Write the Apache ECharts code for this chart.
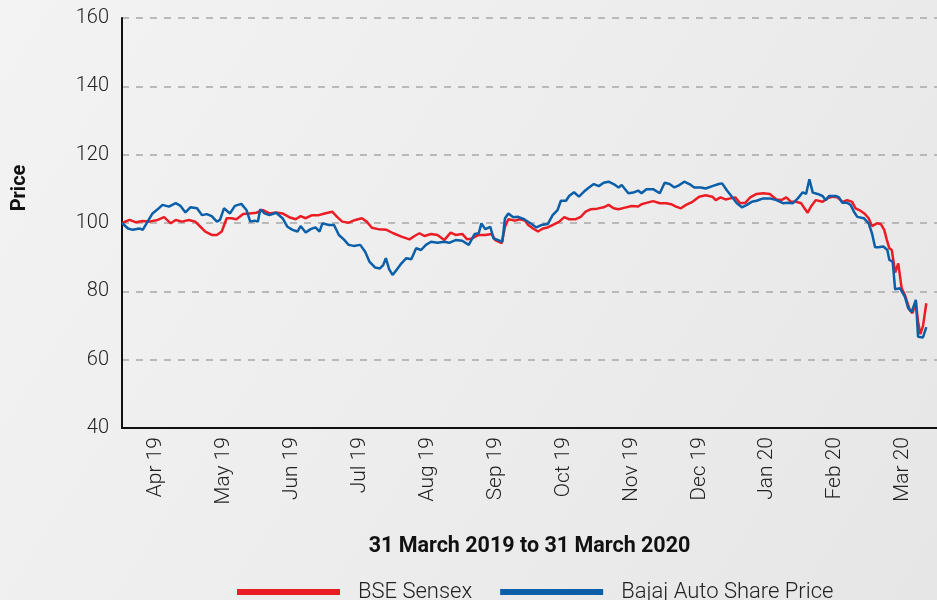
<!DOCTYPE html>
<html>
<head>
<meta charset="utf-8">
<title>BSE Sensex vs Bajaj Auto</title>
<script src="https://cdn.jsdelivr.net/npm/echarts@6/dist/echarts.min.js"></script>
<style>
  html, body { margin: 0; padding: 0; }
  #chart { width: 937px; height: 600px; }
</style>
</head>
<body>
<div id="chart"></div>
<script>
// month labels on the x axis
const months = ['Apr 19', 'May 19', 'Jun 19', 'Jul 19', 'Aug 19', 'Sep 19',
    'Oct 19', 'Nov 19', 'Dec 19', 'Jan 20', 'Feb 20', 'Mar 20'];
const yTicks = [40, 60, 80, 100, 120, 140, 160];

// days since 31 Mar 2019, indexed price (31 Mar 2019 = 100)
const sensexDays = [0, 3.4, 6.3, 9.3, 12.3, 16, 18.9, 21.9, 24.1, 27, 30, 32.9, 35.2, 37.4, 40.3, 42.6, 44.8, 47,
    49.2, 51.4, 54.4, 57.3, 60.3, 63.3, 66.2, 69.2, 72.1, 75.1, 78, 80.2, 82.5, 85.4, 88.4, 91, 94.4, 96.6,
    98.9, 101.8, 104.8, 107.7, 109.9, 112.2, 115.1, 118.8, 121.8, 125.5, 129.1, 131.4, 133.6, 135.8, 138.8,
    141.7, 144.7, 147.6, 149.8, 152.8, 155, 157.2, 160.2, 163.1, 166.1, 167.6, 170.5, 172, 173.5, 176.4,
    178.7, 180.9, 182.4, 184.6, 186.8, 189, 191.2, 194.2, 196.4, 198.6, 200.8, 203.8, 206, 208.2, 210.4,
    213.4, 216.3, 218.5, 220.8, 223, 225.9, 228.9, 231.8, 233.3, 235.5, 238.5, 241.5, 244.4, 246.6, 248.8,
    251, 253.3, 256.2, 259.2, 262.1, 265.1, 266.6, 268.8, 271, 273.2, 275.4, 277.6, 279.9, 282.1, 285, 288,
    290.9, 293.9, 296.1, 298.3, 300.5, 302.7, 305, 306.5, 307.9, 309.4, 311.6, 314.6, 316.8, 319, 321.3,
    323.5, 325.7, 327.9, 329.4, 331.6, 333.4, 335.3, 336.8, 339, 340.8, 342.3, 343.5, 344.6, 345.7, 347.2,
    348.6, 350.1, 351.6, 353.8, 355, 356.5, 357.5, 358.5, 359.7, 361.2];
const sensexVals = [100, 100.9, 100.2, 100.6, 100.4, 100.9, 101.7, 99.9, 100.9, 100.4, 100.9, 100.4, 98.9, 97.5,
    96.5, 96.5, 97.5, 101.4, 101.4, 101.1, 102.6, 102.8, 103, 103.8, 102.8, 103.1, 102.8, 101.7, 101.1, 102,
    101.4, 102.3, 102.3, 102.8, 103.3, 101.8, 100.4, 100.1, 100.9, 101.4, 100.4, 98.6, 98.2, 98, 97, 96,
    95.2, 96.2, 97, 96.2, 96.8, 96.5, 95, 97.2, 96.5, 96.8, 95.2, 95.5, 96.5, 96.5, 96.8, 95, 94.1, 98.9,
    101.1, 100.7, 101.1, 100.7, 99.4, 98.4, 97.5, 98.4, 98.7, 99.7, 100.4, 101.7, 101.1, 101.1, 101.8,
    103.3, 104, 104.2, 104.6, 105.3, 104.3, 104, 104.5, 105, 104.8, 105.5, 105.9, 106.4, 105.8, 105.8,
    105.5, 104.8, 104.3, 105.3, 106.2, 107.7, 108.1, 107.7, 106.7, 107.5, 106.9, 107.2, 107.5, 105.8,
    105.9, 107.5, 108.5, 108.7, 108.5, 106.9, 106.7, 107.5, 106.2, 106.2, 105.8, 104.3, 103, 104.8, 106.7,
    106.2, 107.2, 107.7, 107.5, 106.2, 106.7, 106.2, 104.3, 103.6, 102.8, 101.4, 99.1, 99.9, 99.7, 98, 95,
    92.6, 92.1, 85.5, 88.2, 81, 78.9, 74.5, 73.6, 76.8, 71.1, 67.5, 69.8, 76.5];

const bajajDays = [0, 2.7, 4.9, 7.8, 9.3, 11.5, 13.7, 16, 18.2, 21.1, 24.1, 26.3, 28.5, 30.7, 33.7, 35.9, 38.1,
    40.3, 42.6, 44, 45.8, 48.5, 50.7, 53.6, 55.9, 57.6, 59.5, 61, 62.1, 64, 66.2, 69.2, 72.1, 74.3, 76.6,
    78.8, 80.2, 82.5, 84.7, 86.9, 88.7, 90, 93, 95.2, 97.4, 99.6, 101.8, 104, 107, 109.2, 111.1, 113.6,
    115.8, 117.3, 118.5, 120, 121.5, 123.2, 125.5, 127.7, 129.9, 132.1, 134.3, 136.5, 138.8, 141.7, 144.7,
    146.9, 149.8, 152.8, 155.7, 158.4, 160.2, 161.4, 163.1, 165.4, 166.8, 169, 170.8, 172, 173.5, 175.7,
    177.9, 180.6, 183.9, 186.1, 188.3, 191.2, 193.4, 195.6, 197.1, 199.4, 200.8, 203, 205.2, 207.5, 209.7,
    211.9, 214.1, 216.3, 218.5, 220.8, 223, 224.4, 227.4, 229.6, 231.8, 233.3, 235.5, 238.5, 241.5, 243.7,
    245.9, 248.1, 250.3, 252.5, 254.8, 257, 259.9, 262.1, 265.1, 268, 269.5, 271.7, 273.9, 276.1, 278.4,
    280.6, 282.8, 285, 288, 290.9, 293.9, 296.8, 299.1, 301.3, 303.5, 305.7, 307.2, 308.7, 310.2, 312.4,
    314.6, 316, 317.5, 320.5, 322, 323.5, 325.7, 327.2, 328.7, 330.2, 333.1, 335.3, 336.8, 338.2, 339.7,
    341.9, 342.7, 343.7, 344.6, 346.1, 347.2, 349.4, 351.6, 353.1, 354.6, 356.5, 357.5, 359.7, 361.2];
const bajajVals = [100, 98.4, 98, 98.4, 98, 100.4, 102.8, 104, 105.3, 104.8, 105.8, 105, 103.1, 104.6, 104.3,
    102.3, 102.6, 102, 100.4, 100.9, 104.3, 102.8, 105, 105.6, 103.8, 100.4, 100.7, 100.4, 104, 102.8,
    102.3, 103, 101.4, 98.9, 98, 97.5, 99.1, 97.2, 98.2, 98.7, 97.5, 99.9, 99.4, 99.4, 96.5, 95.2, 93.6,
    93.3, 93.6, 91.6, 88.7, 87, 86.7, 87.7, 89.7, 86.4, 84.8, 86.2, 88.2, 89.7, 89.4, 92.6, 92.1, 93.6,
    94.5, 94.2, 94.5, 94.2, 95, 94.8, 93.6, 96.8, 97, 99.9, 98.2, 98.9, 95.5, 95, 94.5, 101.4, 102.8, 101.7,
    101.8, 101.1, 99.7, 98.7, 99.4, 99.7, 102.3, 103.8, 106.5, 106.5, 107.9, 109, 107.7, 109.2, 110.4,
    111.4, 110.8, 111.8, 112.1, 111.4, 110.4, 111.1, 108.7, 108.9, 109.5, 108.7, 109.9, 109.9, 108.7,
    111.8, 111.4, 110.4, 111.1, 112.1, 111.4, 110.4, 110.4, 110.1, 110.8, 111.4, 111.6, 109.5, 107.7,
    105.8, 104.6, 105.3, 106.2, 106.5, 107.2, 107.2, 106.7, 105.8, 105.9, 105.8, 107.2, 109, 108.5, 112.8,
    108.9, 108.5, 107.9, 106.7, 107.9, 107.9, 107.5, 105.9, 105.9, 105.3, 103.3, 101.8, 101.4, 99.9, 97,
    92.9, 92.9, 93.1, 93.6, 92.1, 89.2, 88.7, 80.6, 80.9, 78.4, 75, 74, 77.5, 66.7, 66.5, 69.5];

const textFont = 'Roboto';
const toPairs = (days, vals) => days.map((d, i) => [d, vals[i]]);

const chart = echarts.init(document.getElementById('chart'));

chart.setOption({
    backgroundColor: {
        type: 'linear', x: 0, y: 0, x2: 1, y2: 1,
        colorStops: [
            { offset: 0, color: '#f3f3f3' },
            { offset: 0.5, color: '#ededed' },
            { offset: 1, color: '#e6e6e6' }
        ]
    },
    animation: false,
    grid: { left: 122, right: -10, top: 18, bottom: 172 },
    legend: {
        data: ['BSE Sensex', 'Bajaj Auto Share Price'],
        left: 232, top: 576,
        icon: 'rect', itemWidth: 103, itemHeight: 6, itemGap: 28,
        textStyle: { fontFamily: textFont, fontSize: 22, fontWeight: 300, color: '#222', padding: [0, 0, 0, 13] }
    },
    graphic: [{
        type: 'text', x: 20, y: 188, rotation: Math.PI / 2,
        style: {
            text: 'Price', fontFamily: textFont, fontSize: 20, fontWeight: 'bold',
            fill: '#111', textAlign: 'center', textVerticalAlign: 'middle'
        }
    }],
    xAxis: [{
        type: 'category', data: months, boundaryGap: true,
        name: '31 March 2019 to 31 March 2020', nameLocation: 'middle', nameGap: 108,
        nameTextStyle: { fontFamily: textFont, fontSize: 21.5, fontWeight: 'bold', color: '#111' },
        axisLine: { lineStyle: { color: '#111', width: 2 } },
        axisTick: { inside: true, length: 17, lineStyle: { color: '#111', width: 2 } },
        axisLabel: { rotate: 90, margin: 9, fontFamily: textFont, fontSize: 21, fontWeight: 300, color: '#222' },
        splitLine: { show: false }
    }, {
        type: 'value', min: 0, max: 366, show: false
    }],
    yAxis: {
        type: 'value', min: yTicks[0], max: yTicks[yTicks.length - 1], interval: 20,
        axisLine: { show: true, lineStyle: { color: '#111', width: 2 } },
        axisTick: { show: false },
        axisLabel: { margin: 13, fontFamily: textFont, fontSize: 20, fontWeight: 300, color: '#222' },
        splitLine: { lineStyle: { color: '#a8a8a8', width: 1.5, type: [7, 7] } }
    },
    series: [{
        name: 'BSE Sensex', type: 'line', xAxisIndex: 1,
        data: toPairs(sensexDays, sensexVals),
        symbol: 'none', lineStyle: { color: '#ec1c24', width: 2.5 }, itemStyle: { color: '#ec1c24' }, z: 2
    }, {
        name: 'Bajaj Auto Share Price', type: 'line', xAxisIndex: 1,
        data: toPairs(bajajDays, bajajVals),
        symbol: 'none', lineStyle: { color: '#0b5ea8', width: 2.5 }, itemStyle: { color: '#0b5ea8' }, z: 3
    }]
});
</script>
</body>
</html>
